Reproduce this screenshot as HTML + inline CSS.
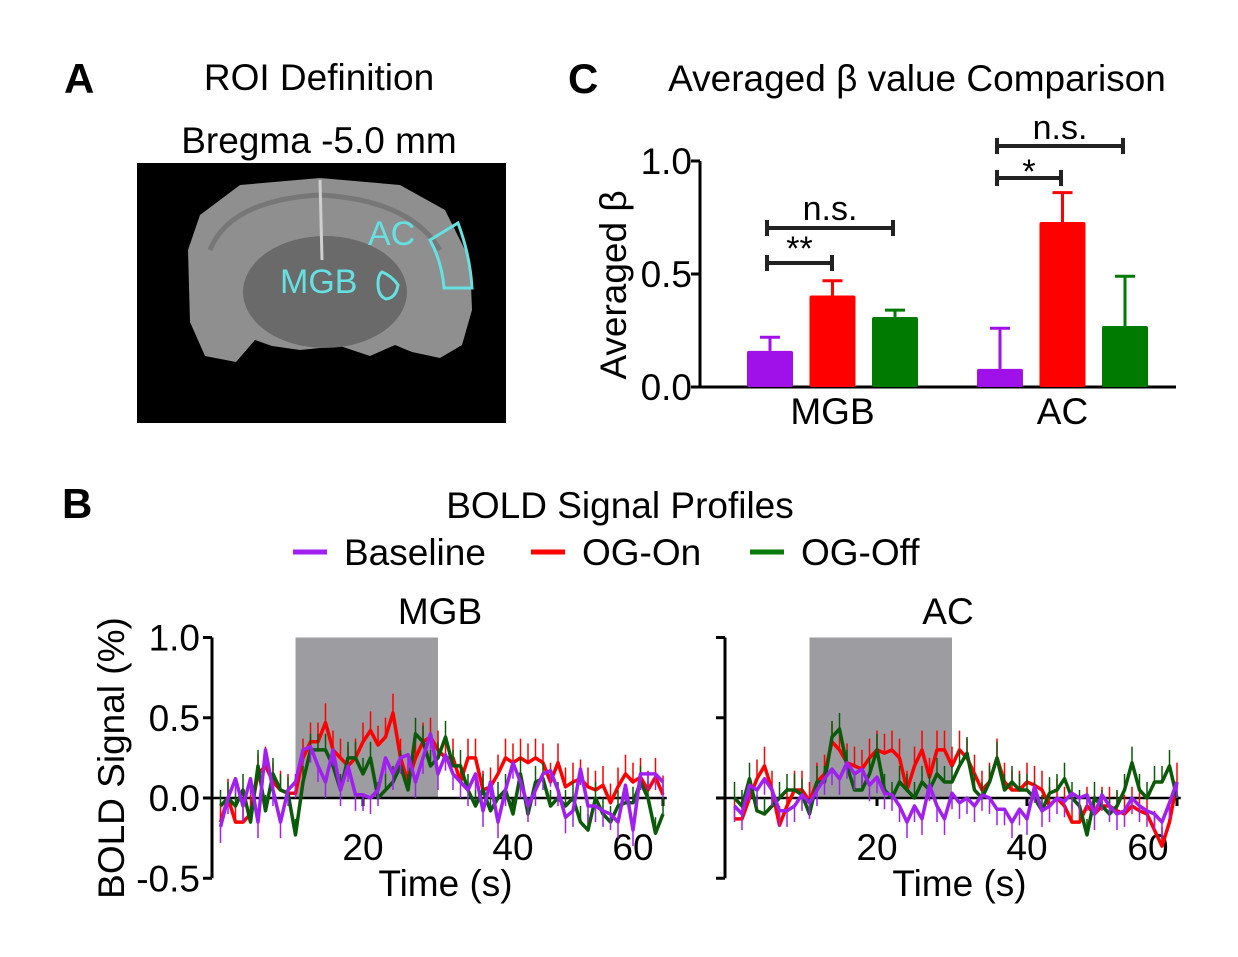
<!DOCTYPE html>
<html><head><meta charset="utf-8">
<style>
html,body{margin:0;padding:0;background:#fff;}
svg{display:block;font-family:"Liberation Sans",Arial,sans-serif;}
</style></head>
<body>
<svg width="1238" height="957" viewBox="0 0 1238 957" xmlns="http://www.w3.org/2000/svg">
<g>
<text x="64" y="93" font-size="42" font-weight="bold">A</text>
<text x="319" y="90" font-size="37" text-anchor="middle">ROI Definition</text>
<text x="319" y="153" font-size="37" text-anchor="middle">Bregma -5.0 mm</text>
<rect x="137" y="163" width="369" height="260" fill="#000"/>
<path d="M188,250 L200,215 L240,185 L320,178 L400,185 L445,210 L470,260 L472,310 L462,345 L440,358 L412,352 L395,345 L370,356 L340,346 L300,350 L272,346 L255,340 L236,362 L205,356 L190,322 Z" fill="#8f8f8f"/>
<path d="M210,250 Q230,200 320,195 Q410,200 440,250" fill="none" stroke="#777" stroke-width="5"/>
<ellipse cx="325" cy="292" rx="82" ry="56" fill="#6a6a6a"/>
<path d="M320,180 L322,260" stroke="#cfcfcf" stroke-width="3"/>
<text x="368" y="245" font-size="34" fill="#66e0e0">AC</text>
<text x="280" y="293" font-size="34" fill="#66e0e0">MGB</text>
<path d="M430,240 L458,223 Q470,255 472,288 L444,288 Q442,262 430,240 Z" fill="none" stroke="#66e0e0" stroke-width="3"/>
<path d="M382,272 Q392,276 398,285 Q396,298 386,299 Q378,296 378,284 Q378,275 382,272 Z" fill="none" stroke="#66e0e0" stroke-width="3"/>
</g>
<g>
<text x="568" y="93" font-size="42" font-weight="bold">C</text>
<text x="917" y="91" font-size="37" text-anchor="middle">Averaged β value Comparison</text>
<text transform="translate(626,285) rotate(-90)" font-size="37" text-anchor="middle">Averaged β</text>
<g id="barchart"></g>
</g>
<g>
<text x="62" y="518" font-size="42" font-weight="bold">B</text>
<text x="620" y="518" font-size="37" text-anchor="middle">BOLD Signal Profiles</text>
<g>
<line x1="293" y1="552" x2="327" y2="552" stroke="#a020f0" stroke-width="5"/>
<text x="344" y="565" font-size="37">Baseline</text>
<line x1="531" y1="552" x2="565" y2="552" stroke="#ff0000" stroke-width="5"/>
<text x="582" y="565" font-size="37">OG-On</text>
<line x1="750" y1="552" x2="784" y2="552" stroke="#0a7a0a" stroke-width="5"/>
<text x="801" y="565" font-size="37">OG-Off</text>
</g>
<text transform="translate(124,758) rotate(-90)" font-size="37" text-anchor="middle">BOLD Signal (%)</text>
<g id="lines"></g>
</g>
</svg>
<script>
const NS='http://www.w3.org/2000/svg';
// ---- Bar chart data ----
const barGroups=['MGB','AC'];
const barMeans=[[0.16,0.405,0.31],[0.08,0.73,0.27]];
const barErrs=[[0.06,0.065,0.03],[0.18,0.13,0.22]];
const barYTicks=[0,0.5,1.0];
const barYTickLabels=['0.0','0.5','1.0'];
// ---- Time series data ----
const timeTicks=[20,40,60];
const sigYTicks=[-0.5,0,0.5,1.0];
const sigYTickLabels=['-0.5','0.0','0.5','1.0'];
const stimOn=[11,30];
const mgbRed=[-0.15,0,-0.15,-0.15,-0.1,0.15,0.2,0.1,0.05,0.03,0.03,0.25,0.35,0.35,0.47,0.3,0.25,0.2,0.25,0.35,0.42,0.33,0.38,0.53,0.25,0.1,0.25,0.35,0.38,0.3,0.25,0.25,0.1,0.25,0.25,0.05,0.07,0.15,0.25,0.22,0.25,0.22,0.25,0.22,0.1,0.22,0.07,0.1,0.12,0.07,0.05,0.08,-0.03,0.07,0.15,0.1,0.13,0.05,0.13,0.02];
const mgbGreen=[-0.05,0,-0.05,0.05,-0.15,0.2,-0.08,0.15,0.05,0.03,-0.23,0.1,0.3,0.3,0.3,0.2,0.05,0.25,0.25,0.15,0.25,0,0.05,0.1,0.2,0.05,0.4,0.35,0.2,0.25,0.38,0.2,0.2,0.05,-0.05,0.05,-0.08,0,0.05,-0.1,0.15,-0.1,0.1,0.12,-0.05,0,-0.05,0,-0.15,-0.2,0,-0.1,-0.15,-0.05,-0.03,-0.03,0.1,0,-0.22,-0.1];
const mgbPurple=[-0.18,0,0.12,-0.05,0.12,-0.15,0.3,0.05,-0.15,0.05,0.1,0.3,0.32,0.2,0.1,0.3,0.05,0.2,0.02,0.02,0,0.05,0.25,0.15,0.25,0.27,0.1,0.25,0.4,0.15,0.27,0.15,0.1,0.05,0.15,-0.08,0.1,-0.15,0.05,0.22,0.1,-0.05,0.05,0.15,0.17,0.05,-0.12,-0.08,0.18,-0.05,-0.05,-0.08,-0.1,-0.15,0.08,-0.2,0.15,0.15,0.15,0.1];
const acRed=[-0.13,-0.13,0,0.12,0.2,0.05,-0.17,-0.05,0.05,0.05,-0.02,0.1,0.15,0.35,0.3,0.22,0.2,0.18,0.25,0.3,0.28,0.3,0.25,0.05,0.2,0.3,0.13,0.3,0.3,0.2,0.3,0.25,0.15,0.05,0.1,0.25,0.1,0.05,0.05,0.1,0.08,0.05,-0.05,0,-0.05,-0.15,-0.15,-0.05,-0.1,-0.05,-0.05,-0.08,-0.1,-0.05,-0.08,-0.1,-0.2,-0.3,-0.15,0.1];
const acGreen=[0,-0.05,0.12,-0.08,-0.1,-0.05,0,0.05,0.05,0.02,-0.1,0.1,0.1,0.38,0.43,0.2,0.05,0.05,0.15,0.3,0.05,0,0.1,0.05,0,0.1,0.05,0.15,0.1,0.1,0.2,0.28,0.05,0,0.1,0.25,0.05,0.1,0.05,0.05,0,-0.08,0.03,0.05,0.12,0,-0.05,-0.23,0,-0.05,-0.1,-0.05,0.05,0.22,0.05,0,0.1,0.1,0.2,0];
const acPurple=[-0.05,-0.1,0.08,0.05,0.12,0.05,-0.08,-0.08,-0.05,0.02,-0.03,0.05,0.12,0.18,0.12,0.22,0.15,0.18,0.08,0.13,0.03,0.02,-0.05,-0.15,-0.05,-0.13,0.08,-0.05,-0.13,0.03,-0.03,0,-0.05,0.02,0,-0.07,-0.07,-0.15,-0.07,-0.13,0.07,-0.08,-0.05,0,-0.02,0.03,0,0.02,-0.1,0.02,-0.05,-0.1,-0.08,0,-0.05,-0.08,-0.1,-0.15,-0.03,0.1];
const seriesErr=[0.12,0.1,0.1];

function el(tag,attrs,parent){const e=document.createElementNS(NS,tag);for(const k in attrs)e.setAttribute(k,attrs[k]);parent.appendChild(e);return e;}

// ---- Bar chart ----
(function(){
  const g=document.getElementById('barchart');
  const x0=700,x1=1176,yBase=387,yTop=161;
  const y=v=>yBase-(yBase-yTop)*v/1.0;
  const colors=['#a010e8','#ff0000','#007a00'];
  const groupStart=[747,977],bw=46,step=62.5;
  let a=el('line',{x1:x0,y1:yBase,x2:x1,y2:yBase,stroke:'#000','stroke-width':3},g);
  
  a=el('line',{x1:x0,y1:yTop,x2:x0,y2:yBase,stroke:'#000','stroke-width':3},g);
  
  barYTicks.forEach((t,i)=>{
    const tk=el('line',{x1:x0-9,y1:y(t),x2:x0,y2:y(t),stroke:'#000','stroke-width':3},g);
    
    const tx=el('text',{x:x0-8,y:y(t)+13,'font-size':37,'text-anchor':'end'},g);tx.textContent=barYTickLabels[i];
    
  });
  barGroups.forEach((gn,gi)=>{
    barMeans[gi].forEach((m,bi)=>{
      const bx=groupStart[gi]+bi*step, cx=bx+bw/2;
      const top=y(m+barErrs[gi][bi]);
      const e1=el('line',{x1:cx,y1:y(m),x2:cx,y2:top,stroke:colors[bi],'stroke-width':3},g);
      
      const e2=el('line',{x1:cx-10,y1:top,x2:cx+10,y2:top,stroke:colors[bi],'stroke-width':3},g);
      
      const r=el('rect',{x:bx,y:y(m),width:bw,height:yBase-y(m),fill:colors[bi],rx:2},g);
      
    });
    const lab=el('text',{x:groupStart[gi]+step+bw/2,y:424,'font-size':37,'text-anchor':'middle'},g);lab.textContent=gn;
    
  });
  const br=[[767,832,263,'**',260],[767,893,228,'n.s.',220],[997,1061,178,'*',183],[997,1123,146,'n.s.',139]];
  br.forEach(b=>{
    const p=el('path',{d:`M${b[0]},${b[2]-8}V${b[2]+8}M${b[0]},${b[2]}H${b[1]}M${b[1]},${b[2]-8}V${b[2]+8}`,stroke:'#222','stroke-width':4,fill:'none'},g);
    
    const t=el('text',{x:(b[0]+b[1])/2,y:b[4],'font-size':34,'text-anchor':'middle'},g);t.textContent=b[3];
    
  });
})();

// ---- Line charts ----
(function(){
  const g=document.getElementById('lines');
  const panels=[
    {name:'mgb',title:'MGB',ax:212,x0:213,tl:[363,513,633],series:[mgbRed,mgbGreen,mgbPurple],titleX:440},
    {name:'ac',title:'AC',ax:725,x0:727,tl:[877,1027,1148],series:[acRed,acGreen,acPurple],titleX:948}
  ];
  const colors=['#ff0000','#0a5a0a','#a020f0'];
  const errDir=[1,1,-1];
  const ys=v=>798-v*160.5;
  panels.forEach(P=>{
    const xs=t=>P.x0+t*7.5;
    const tt=el('text',{x:P.titleX,y:624,'font-size':37,'text-anchor':'middle'},g);tt.textContent=P.title;
    
    const sh=el('rect',{x:xs(stimOn[0]),y:ys(1.0),width:xs(stimOn[1])-xs(stimOn[0]),height:ys(0)-ys(1.0),fill:'#9d9ca1'},g);
    
    const ya=el('line',{x1:P.ax,y1:ys(1.0),x2:P.ax,y2:ys(-0.5),stroke:'#000','stroke-width':3},g);
    
    sigYTicks.forEach((t,i)=>{
      const tk=el('line',{x1:P.ax,y1:ys(t),x2:P.ax-9,y2:ys(t),stroke:'#000','stroke-width':3},g);
      
      if(P.name==='mgb'){const tx=el('text',{x:P.ax-12,y:ys(t)+13,'font-size':37,'text-anchor':'end'},g);tx.textContent=sigYTickLabels[i];
      }
    });
    const za=el('line',{x1:P.ax,y1:ys(0),x2:xs(60.5),y2:ys(0),stroke:'#000','stroke-width':2.5},g);
    
    timeTicks.forEach((t,i)=>{
      const tk=el('line',{x1:xs(t),y1:ys(0),x2:xs(t),y2:ys(0)+8,stroke:'#000','stroke-width':3},g);
      
      const tx=el('text',{x:P.tl[i],y:860,'font-size':37,'text-anchor':'middle'},g);tx.textContent=String(t);
      
    });
    const xt=el('text',{x:xs(31),y:896,'font-size':37,'text-anchor':'middle'},g);xt.textContent='Time (s)';
    
    P.series.forEach((s,si)=>{
      let d='';
      s.forEach((v,i)=>{
        const x=xs(i+1),y=ys(v);
        const eb=el('line',{x1:x,y1:y,x2:x,y2:ys(v+errDir[si]*seriesErr[si]),stroke:colors[si],'stroke-width':1.5},g);
        
        d+=(i?'L':'M')+x.toFixed(1)+','+y.toFixed(1);
      });
      const p=el('path',{d:d,fill:'none',stroke:colors[si],'stroke-width':3.5,'stroke-linejoin':'round'},g);
      
    });
  });
})();
</script>
</body></html>
